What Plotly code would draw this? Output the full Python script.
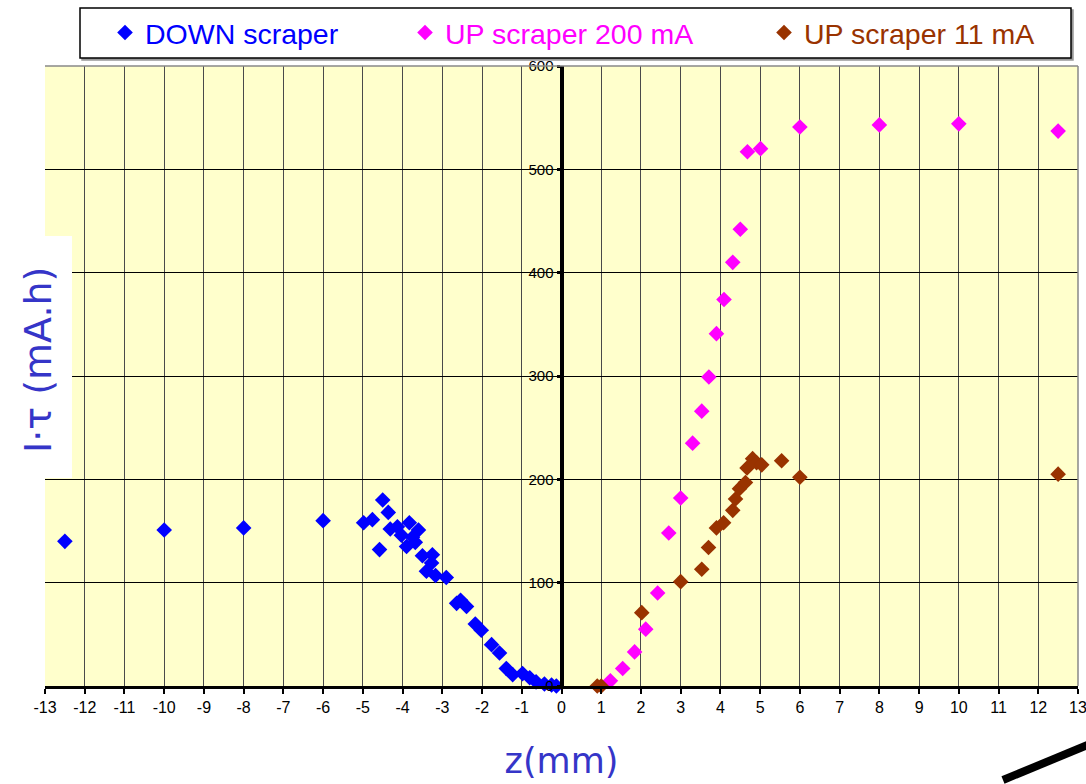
import plotly.graph_objects as go

# Beam lifetime product I·τ versus scraper position z (mm)
down_z = [-12.5, -10.0, -8.0, -6.0, -4.98, -4.76, -4.5, -4.36, -4.58, -4.31, -4.13, -4.03,
          -3.83, -3.75, -3.9, -3.68, -3.6, -3.5, -3.25, -3.4, -3.27, -3.17, -2.9, -2.64,
          -2.54, -2.39, -2.17, -2.02, -1.76, -1.56, -1.39, -1.23, -0.98, -0.8, -0.64,
          -0.43, -0.25, -0.13]
down_it = [140, 151, 153, 160, 158, 161, 180, 168, 132, 152, 154, 146,
           158, 144, 135, 139, 151, 126, 127, 111, 119, 107, 105, 80,
           83, 77, 60, 54, 40, 32, 17, 11, 12, 8, 4,
           2, 1, 0]

up200_z = [1.23, 1.54, 1.84, 2.12, 2.42, 2.7, 3.0, 3.3, 3.53, 3.71, 3.9, 4.09, 4.31,
           4.5, 4.68, 5.01, 6.0, 8.0, 10.0, 12.5]
up200_it = [5, 17, 33, 55, 90, 148, 182, 235, 266, 299, 341, 374, 410,
            442, 517, 520, 541, 543, 544, 537]

up11_z = [0.9, 1.0, 2.02, 3.0, 3.53, 3.7, 3.9, 4.08, 4.31, 4.38, 4.48, 4.63, 4.67,
          4.81, 4.91, 5.04, 5.54, 6.0, 12.5]
up11_it = [0, 0, 71, 101, 113, 134, 153, 158, 170, 181, 191, 197, 211,
           220, 216, 214, 218, 202, 205]

x_ticks = list(range(-13, 14))
y_ticks = [0, 100, 200, 300, 400, 500, 600]

series = [
    ("DOWN scraper", down_z, down_it, "#0000FF", "legend"),
    ("UP scraper 200 mA", up200_z, up200_it, "#FF00FF", "legend2"),
    ("UP scraper 11 mA", up11_z, up11_it, "#993300", "legend3"),
]

fig = go.Figure()
for name, xs, ys, col, leg in series:
    fig.add_trace(go.Scatter(
        x=xs, y=ys, mode="markers", name=name, legend=leg, showlegend=True,
        marker=dict(symbol="diamond", size=12, color=col, line=dict(width=0)),
        cliponaxis=False,
    ))

W, H = 1086, 784
ml, mr, mt, mb = 45, 8, 66, 98
pw, ph = W - ml - mr, H - mt - mb


def px(xp):
    return (xp - ml) / pw


def py(yp):
    return (H - mb - yp) / ph


legend_font = dict(family="Liberation Sans, Arial", size=28.5)
leg_common = dict(orientation="h", bgcolor="rgba(0,0,0,0)", borderwidth=0,
                  yanchor="middle", xanchor="left", y=py(33), itemsizing="trace",
                  visible=True)

title_font = dict(family="Comic Sans MS, DejaVu Sans, sans-serif", size=35, color="#3535C8")

fig.update_layout(
    width=W, height=H,
    margin=dict(l=ml, r=mr, t=mt, b=mb, autoexpand=False),
    paper_bgcolor="white",
    plot_bgcolor="#FFFFCC",
    showlegend=True,
    legend=dict(x=px(105), font=dict(color="#0000FF", **legend_font), **leg_common),
    legend2=dict(x=px(405), font=dict(color="#FF00FF", **legend_font), **leg_common),
    legend3=dict(x=px(764), font=dict(color="#993300", **legend_font), **leg_common),
    xaxis=dict(
        range=[-13, 13], tickvals=x_ticks, ticktext=[str(v) for v in x_ticks],
        showgrid=True, gridcolor="#4a4a4a", gridwidth=1,
        showline=True, linecolor="black", linewidth=3,
        ticks="outside", ticklen=5, tickwidth=2, tickcolor="black",
        tickfont=dict(family="Liberation Sans, Arial", size=16, color="black"),
        ticklabeloverflow="allow", automargin=False,
        zeroline=False,
        title=dict(text="z(mm)", font=title_font, standoff=34),
    ),
    yaxis=dict(
        range=[0, 600], tickvals=y_ticks, ticktext=[str(v) for v in y_ticks],
        anchor="free", position=0.5, automargin=False,
        showgrid=True, gridcolor="black", gridwidth=1,
        showline=True, linecolor="black", linewidth=4,
        ticks="outside", ticklen=3, tickwidth=3, tickcolor="black",
        tickfont=dict(family="Liberation Sans, Arial", size=15, color="black"),
        zeroline=False,
    ),
    shapes=[
        # plot-area frame on top and right
        dict(type="line", xref="paper", yref="paper", x0=0, x1=1, y0=1, y1=1,
             line=dict(color="#888888", width=1.5), layer="above"),
        dict(type="line", xref="paper", yref="paper", x0=1, x1=1, y0=0, y1=1,
             line=dict(color="#888888", width=1.5), layer="above"),
        # legend frame with shadow
        dict(type="rect", xref="paper", yref="paper",
             x0=px(82), x1=px(1073), y0=py(10), y1=py(60),
             line=dict(color="#999999", width=1.5), fillcolor="#999999", layer="below"),
        dict(type="rect", xref="paper", yref="paper",
             x0=px(80), x1=px(1071), y0=py(8), y1=py(58),
             line=dict(color="black", width=1.5), fillcolor="white", layer="below"),
        # white panel behind the vertical axis title
        dict(type="rect", xref="paper", yref="paper",
             x0=px(0), x1=px(72), y0=py(236), y1=py(478),
             line=dict(width=0), fillcolor="white", layer="above"),
        # pen stroke at lower right
        dict(type="line", xref="paper", yref="paper",
             x0=px(1003), y0=py(780), x1=px(1090), y1=py(744),
             line=dict(color="black", width=8), layer="above"),
    ],
    annotations=[
        dict(text="I·τ (mA.h)", xref="paper", yref="paper", x=px(38), y=py(360),
             textangle=-90, showarrow=False, font=dict(title_font, size=38),
             xanchor="center", yanchor="middle"),
    ],
)

fig.write_html("out.html")
